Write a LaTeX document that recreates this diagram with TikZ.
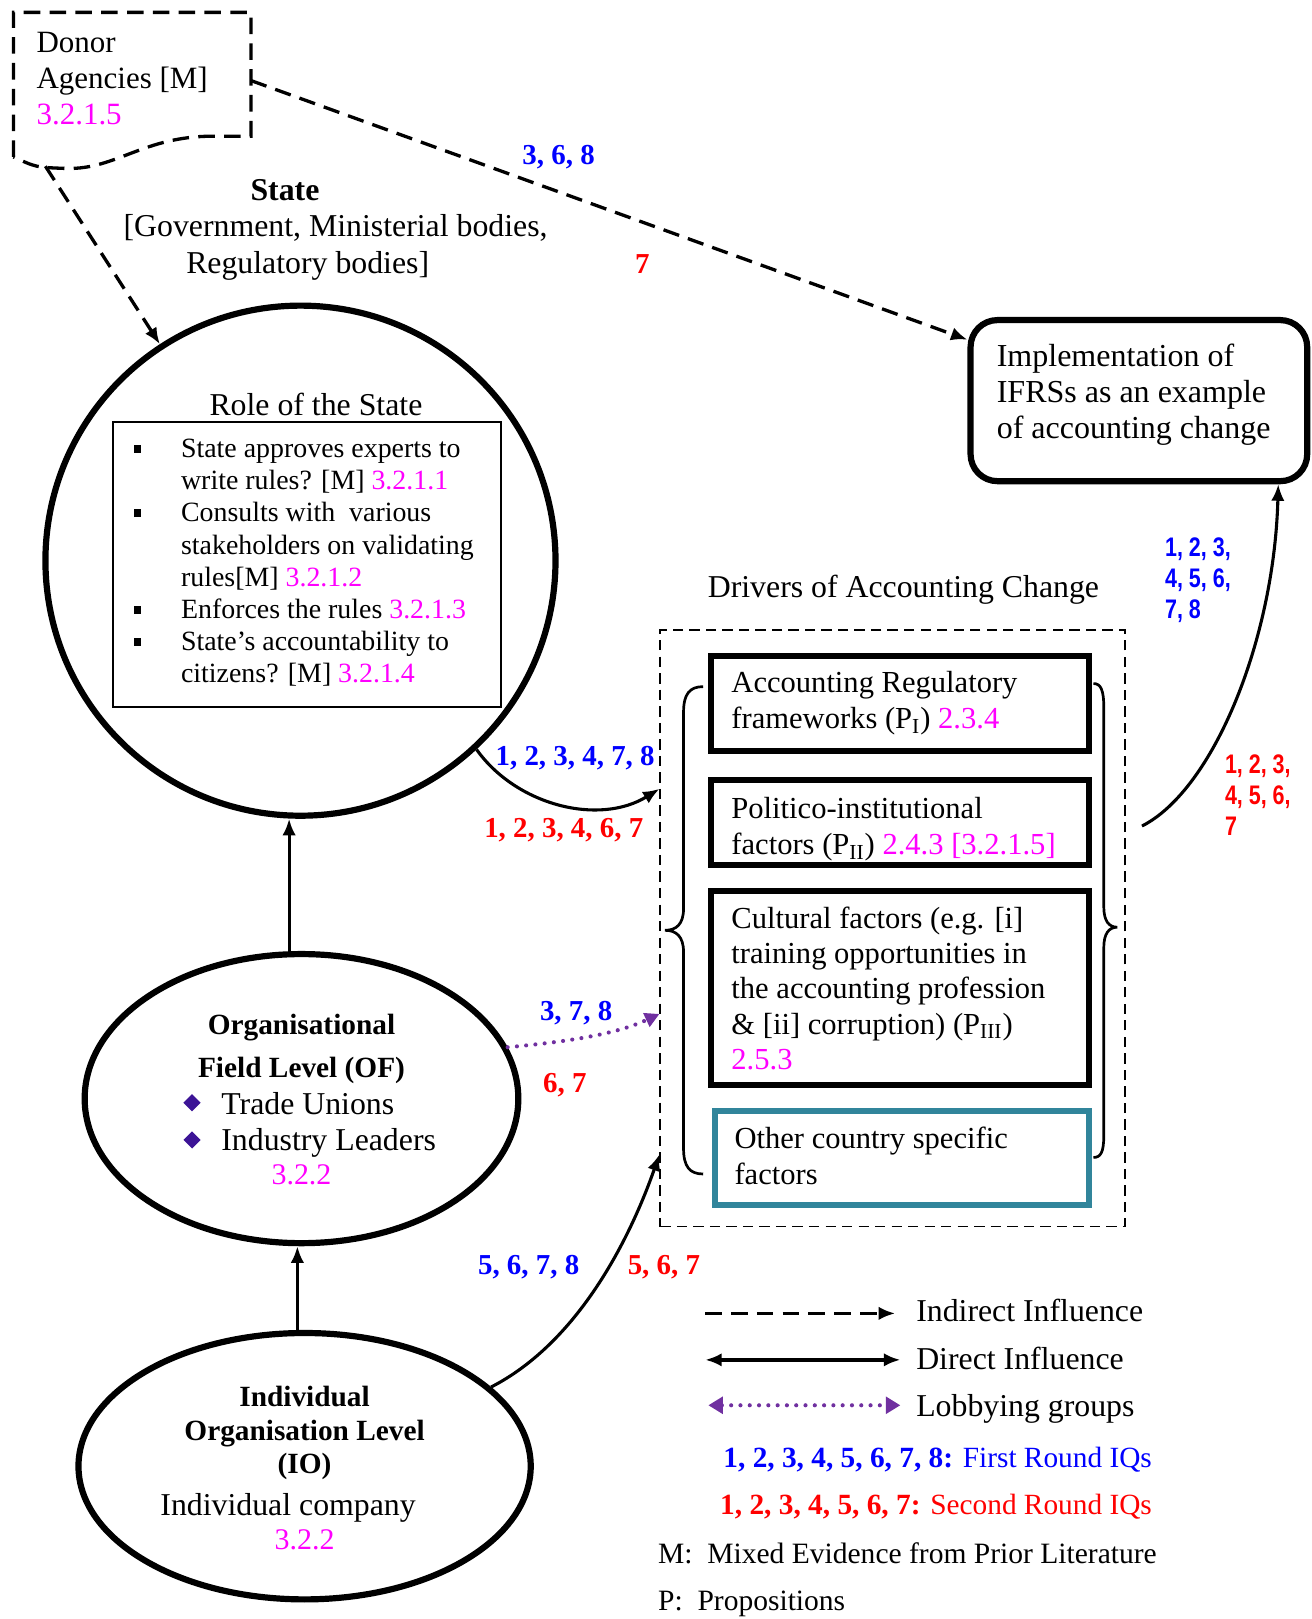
\documentclass[tikz,border=0pt]{standalone}
\usepackage{fontspec}
\setmainfont{Liberation Serif}
\newfontfamily\narrowsans[FakeStretch=0.8]{Liberation Sans}
\usetikzlibrary{arrows.meta,calc,shapes.geometric}
\definecolor{mag}{RGB}{255,0,255}
\definecolor{qblue}{RGB}{0,0,255}
\definecolor{qred}{RGB}{255,0,0}
\definecolor{lobby}{RGB}{112,48,160}
\definecolor{tealbox}{RGB}{49,133,155}
\definecolor{diam}{RGB}{60,20,150}
\newcommand\mg[1]{\textcolor{mag}{#1}}
\newcommand\sqbul{\rule[2.3pt]{3.8pt}{3.8pt}}
\begin{document}
\begin{tikzpicture}[x=0.5pt,y=-0.5pt,
  txt/.style={inner sep=0pt, anchor=base west},
  ctxt/.style={inner sep=0pt, anchor=base},
  main/.style={font=\fontsize{15.4}{18}\selectfont},
  boxfont/.style={font=\fontsize{14.8}{17.5}\selectfont},
  bnum/.style={ctxt, font=\bfseries\fontsize{14}{16}\selectfont},
  snum/.style={txt, font=\narrowsans\bfseries\fontsize{13}{15}\selectfont},
  thickbox/.style={draw, line width=3pt, inner sep=0pt},
  dasharrow/.style={line width=1.6pt, dash pattern=on 8pt off 4.5pt, -{Latex[length=8pt,width=6.5pt]}},
  solidarrow/.style={line width=1.5pt, -{Latex[length=8pt,width=6.5pt]}},
  lobbyline/.style={draw=lobby, line width=2pt, line cap=round, dash pattern=on 0pt off 4.5pt},
]
\useasboundingbox (0,0) rectangle (1270,1568);

% ---------- Donor agencies ----------
\draw[line width=1.6pt, dash pattern=on 8pt off 4.5pt]
  (13,152) -- (13,12) -- (243,12) -- (243,132) -- (200,132)
  .. controls (135,134) and (110,166) .. (60,163)
  .. controls (35,162) .. (13,152);
\node[txt, font=\fontsize{15}{17.5}\selectfont] (donortxt) at (35,51)
  {\begin{tabular}[t]{@{}l@{}}Donor\\Agencies [M]\\\mg{3.2.1.5}\end{tabular}};
\coordinate (donorR) at (243,78);
\coordinate (donorB) at (44,161);

% ---------- State ----------
\node[ctxt, font=\bfseries\fontsize{15.4}{18}\selectfont] (statettl) at (276,194) {State};
\node[ctxt, main] (stategov) at (325,229) {[Government, Ministerial bodies,};
\node[ctxt, main] (statereg) at (298,265) {Regulatory bodies]};

\node[circle, draw, line width=3pt, minimum size=247pt, inner sep=0pt] (state) at (291,543) {};
\node[ctxt, main] (roletitle) at (306,402) {Role of the State};
\node[draw, line width=1pt, minimum width=188pt, minimum height=138pt, inner sep=0pt] (rolebox) at (297,547) {};
\node[txt, font=\fontsize{13.5}{15.6}\selectfont] (rolelist) at (129,443)
  {\begin{tabular}[t]{@{}p{23pt}@{}l@{}}
   \sqbul & State approves experts to\\
          & write rules? [M] \mg{3.2.1.1}\\
   \sqbul & Consults with\ \ various\\
          & stakeholders on validating\\
          & rules[M] \mg{3.2.1.2}\\
   \sqbul & Enforces the rules \mg{3.2.1.3}\\
   \sqbul & State’s accountability to\\
          & citizens? [M] \mg{3.2.1.4}
   \end{tabular}};

% ---------- Implementation ----------
\node[thickbox, rounded corners=13pt, minimum width=163pt, minimum height=78pt] (impl) at (1103,388) {};
\node[txt, font=\fontsize{15.5}{17.5}\selectfont] (impltxt) at (965,355)
  {\begin{tabular}[t]{@{}l@{}}Implementation of\\IFRSs as an example\\of accounting change\end{tabular}};

% ---------- Drivers ----------
\node[ctxt, main] (drvtitle) at (875,579) {Drivers of Accounting Change};
\node[draw, line width=0.8pt, dash pattern=on 5pt off 3pt, minimum width=225pt, minimum height=289pt, inner sep=0pt] (drivers) at (864.5,899) {};

\node[thickbox, minimum width=183pt, minimum height=46pt] (box1) at (871.5,681.5) {};
\node[thickbox, minimum width=183pt, minimum height=41pt] (box2) at (871.5,796.5) {};
\node[thickbox, minimum width=183pt, minimum height=94pt] (box3) at (871.5,957) {};
\node[draw=tealbox, line width=2.9pt, inner sep=0pt, minimum width=181.5pt, minimum height=45.5pt] (box4) at (873.5,1121.5) {};

\node[txt, boxfont] (b1txt) at (708,671)
  {\begin{tabular}[t]{@{}l@{}}Accounting Regulatory\\frameworks (P\textsubscript{I}) \mg{2.3.4}\end{tabular}};
\node[txt, boxfont] (b2txt) at (708,793)
  {\begin{tabular}[t]{@{}l@{}}Politico-institutional\\factors (P\textsubscript{II}) \mg{2.4.3 [3.2.1.5]}\end{tabular}};
\node[txt, font=\fontsize{14.8}{17.1}\selectfont] (b3txt) at (708,899)
  {\begin{tabular}[t]{@{}l@{}}Cultural factors (e.g. [i]\\training opportunities in\\the accounting profession\\\& [ii] corruption) (P\textsubscript{III})\\\mg{2.5.3}\end{tabular}};
\node[txt, boxfont] (b4txt) at (711,1112)
  {\begin{tabular}[t]{@{}l@{}}Other country specific\\factors\end{tabular}};

% braces
\draw[line width=1.3pt]
  (681,665) .. controls (668,665) and (662,672) .. (662,690) -- (662,880)
  .. controls (662,895) and (655,901) .. (644,901)
  .. controls (655,901) and (662,907) .. (662,922) -- (662,1112)
  .. controls (662,1130) and (668,1137) .. (681,1137);
\draw[line width=1.3pt]
  (1059,662) .. controls (1066,662) and (1069,668) .. (1069,685) -- (1069,878)
  .. controls (1069,892) and (1074,898) .. (1082,898)
  .. controls (1074,898) and (1069,904) .. (1069,918) -- (1069,1100)
  .. controls (1069,1116) and (1066,1121) .. (1059,1121);

% ---------- OF ----------
\node[ellipse, draw, line width=3pt, minimum width=210pt, minimum height=140pt, inner sep=0pt] (of) at (292,1064) {};
\node[ctxt, font=\bfseries\fontsize{14.2}{17}\selectfont] (oft1) at (292,1002) {Organisational};
\node[ctxt, font=\bfseries\fontsize{14.2}{17}\selectfont] (oft2) at (292,1044) {Field Level (OF)};
\node[diamond, fill=diam, inner sep=0pt, minimum size=8.5pt] (dm1) at (186,1068) {};
\node[diamond, fill=diam, inner sep=0pt, minimum size=8.5pt] (dm2) at (186,1104) {};
\node[txt, main] (oft3) at (214,1079) {Trade Unions};
\node[txt, main] (oft4) at (214,1114) {Industry Leaders};
\node[ctxt, font=\fontsize{14.5}{17}\selectfont] (oft5) at (292,1147) {\mg{3.2.2}};

% ---------- IO ----------
\node[ellipse, draw, line width=3pt, minimum width=219pt, minimum height=129pt, inner sep=0pt] (io) at (295,1420) {};
\node[ctxt, font=\bfseries\fontsize{14.2}{17}\selectfont] (iot1) at (295,1362) {Individual};
\node[ctxt, font=\bfseries\fontsize{14.2}{17}\selectfont] (iot2) at (295,1395) {Organisation Level};
\node[ctxt, font=\bfseries\fontsize{14.2}{17}\selectfont] (iot3) at (295,1427) {(IO)};
\node[ctxt, main] (iot4) at (279,1468) {Individual company};
\node[ctxt, font=\fontsize{14.5}{17}\selectfont] (iot5) at (295,1501) {\mg{3.2.2}};

% ---------- connectors ----------
\draw[dasharrow] (donorR) -- ($(impl.north west)+(0,22)$);
\draw[dasharrow] (donorB) -- (state.123);

\coordinate (ofTop) at ($(of.north)+(-12,0)$);
\draw[solidarrow] (ofTop) -- (ofTop |- state.south);
\coordinate (ioTop) at ($(io.north)+(-7,0)$);
\draw[solidarrow] (ioTop) -- (ioTop |- of.south);

\draw[solidarrow] (state.-47) .. controls (500,780) and (580,800) .. ($(drivers.west)+(0,-135)$);
\draw[lobbyline, -{Triangle[length=7pt,width=7pt,fill=lobby]}] (of.14) .. controls (560,1008) and (600,1000) .. ($(drivers.west)+(0,83)$);
\draw[solidarrow] (io.23) .. controls (560,1300) and (610,1200) .. ($(drivers.west)+(0,219)$);

\coordinate (drvOut) at (1106,800);
\draw[solidarrow] (drvOut) .. controls (1175,765) and (1234,620) .. ($(impl.south east)+(-31,0)$);

% ---------- number labels ----------
\node[bnum, text=qblue] (n368) at (541,159) {3, 6, 8};
\node[bnum, text=qred] (n7) at (622,265) {7};
\node[bnum, text=qblue] (nc1) at (557,741) {1, 2, 3, 4, 7, 8};
\node[bnum, text=qred] (nc2) at (546,811) {1, 2, 3, 4, 6, 7};
\node[bnum, text=qblue] (no1) at (558,988) {3, 7, 8};
\node[bnum, text=qred] (no2) at (547,1058) {6, 7};
\node[bnum, text=qblue] (ni1) at (512,1234) {5, 6, 7, 8};
\node[bnum, text=qred] (ni2) at (643,1234) {5, 6, 7};
\node[snum, text=qblue] (nr1) at (1128,539)
  {\begin{tabular}[t]{@{}l@{}}1, 2, 3,\\4, 5, 6,\\7, 8\end{tabular}};
\node[snum, text=qred] (nr2) at (1186,749)
  {\begin{tabular}[t]{@{}l@{}}1, 2, 3,\\4, 5, 6,\\7\end{tabular}};

% ---------- legend ----------
\coordinate (lg1a) at (683,1272);
\coordinate (lg1b) at (867,1272);
\draw[dasharrow] (lg1a) -- (lg1b);
\node[txt, main] (lgt1) at (887,1280) {Indirect Influence};
\coordinate (lg2a) at (683,1317);
\coordinate (lg2b) at (872,1317);
\draw[line width=1.6pt, {Latex[length=8pt,width=6.5pt]}-{Latex[length=8pt,width=6.5pt]}] (lg2a) -- (lg2b);
\node[txt, main] (lgt2) at (887,1326) {Direct Influence};
\coordinate (lg3a) at (686,1361);
\coordinate (lg3b) at (872,1361);
\draw[lobbyline, {Triangle[length=7pt,width=8pt,fill=lobby]}-{Triangle[length=7pt,width=8pt,fill=lobby]}] (lg3a) -- (lg3b);
\node[txt, main] (lgt3) at (887,1372) {Lobbying groups};
\node[inner sep=0pt, anchor=base east, text=qblue, font=\fontsize{14.2}{17}\selectfont] (lgt4) at (1116,1421)
  {\textbf{1, 2, 3, 4, 5, 6, 7, 8:} First Round IQs};
\node[inner sep=0pt, anchor=base east, text=qred, font=\fontsize{14.2}{17}\selectfont] (lgt5) at (1116,1467)
  {\textbf{1, 2, 3, 4, 5, 6, 7:} Second Round IQs};
\node[txt, font=\fontsize{14.3}{17}\selectfont] (lgt6) at (637,1514) {M:\ \ Mixed Evidence from Prior Literature};
\node[txt, font=\fontsize{14.3}{17}\selectfont] (lgt7) at (637,1560) {P:\ \ Propositions};
\end{tikzpicture}
\end{document}
